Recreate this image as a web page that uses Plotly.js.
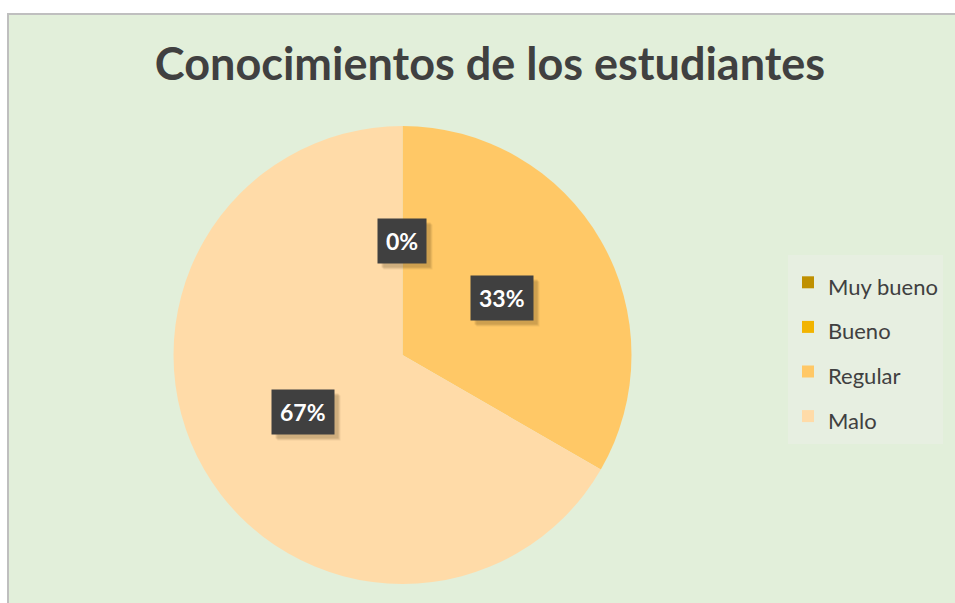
<!DOCTYPE html>
<html>
<head>
<meta charset="utf-8">
<script src="https://cdn.plot.ly/plotly-3.0.1.min.js"></script>
<style>
  html, body { margin: 0; padding: 0; background: #ffffff; overflow: hidden; width: 955px; height: 603px; }
  #chart { position: absolute; left: 7px; top: 13px; width: 950px; height: 592px;
           border-top: 2px solid #BFBFBF; border-left: 2px solid #BFBFBF; box-sizing: border-box; }
</style>
</head>
<body>
<div id="chart"></div>
<script>
// ---- data ----
const categories = ["Muy bueno", "Bueno", "Regular", "Malo"];
const values = [0, 0, 1, 2];
const sliceColors = ["#BF9000", "#F2B400", "#FFC866", "#FFDBA8"];
const chartTitle = "Conocimientos de los estudiantes";

// ---- layout geometry ----
const W = 948, H = 590;
const domX = [164.5 / W, 622.5 / W];
const domY = [1 - 569 / H, 1 - 111 / H];

const cx = (domX[0] + domX[1]) / 2 * W;
const cy = (1 - (domY[0] + domY[1]) / 2) * H;
const R = Math.min((domX[1] - domX[0]) * W, (domY[1] - domY[0]) * H) / 2;

const total = values.reduce((a, b) => a + b, 0);
const annotations = [];
let cum = 0;
const seen = {};
values.forEach((v, i) => {
  const frac = v / total;
  const mid = (cum + frac / 2) * 2 * Math.PI;
  cum += frac;
  const px = cx + 0.5 * R * Math.sin(mid);
  const py = cy - 0.5 * R * Math.cos(mid);
  const key = Math.round(px) + "_" + Math.round(py);
  if (seen[key]) return;
  seen[key] = true;
  const txt = Math.round(frac * 100) + "%";
  annotations.push({
    xref: "paper", yref: "paper", x: px / W, y: 1 - py / H,
    xanchor: "center", yanchor: "middle", showarrow: false,
    borderpad: 8, text: "<b>" + txt + "</b>",
    bgcolor: "#404040",
    font: { family: "Lato, 'Open Sans', sans-serif", size: 23, color: "#FFFFFF" }
  });
});

const trace = {
  type: "pie",
  labels: categories.map(c => '<span style="font-size:22px">' + c + '</span>'),
  values: values,
  sort: false,
  direction: "clockwise",
  rotation: 0,
  textinfo: "none",
  hoverinfo: "none",
  marker: { colors: sliceColors, line: { width: 0 } },
  domain: { x: domX, y: domY }
};

const layout = {
  width: W, height: H,
  margin: { l: 0, r: 0, t: 0, b: 0 },
  paper_bgcolor: "#E2EFDA",
  plot_bgcolor: "#E2EFDA",
  showlegend: true,
  title: {
    text: "<b>" + chartTitle + "</b>",
    font: { family: "Lato, 'Open Sans', sans-serif", size: 45, color: "#404040" },
    x: 481 / W, xref: "paper", xanchor: "center",
    y: 1 - 49 / H, yref: "container", yanchor: "middle"
  },
  legend: {
    x: 779 / W, xanchor: "left",
    y: 1 - 240 / H, yanchor: "top",
    bgcolor: "#E7EFE1",
    font: { family: "Lato, 'Open Sans', sans-serif", size: 32, color: "#404040" },
    itemwidth: 30,
    traceorder: "normal"
  },
  annotations: annotations
};

const gd = document.getElementById("chart");
Plotly.newPlot(gd, [trace], layout, { displayModeBar: false, staticPlot: true }).then(() => {
  // soft drop shadows behind the data-label boxes, sized from the drawn boxes
  const svgBox = gd.querySelector(".main-svg").getBoundingClientRect();
  const shapes = [];
  gd.querySelectorAll(".infolayer .annotation rect.bg").forEach(r => {
    const b = r.getBoundingClientRect();
    const x0 = b.left - svgBox.left, x1 = b.right - svgBox.left;
    const y0 = b.top - svgBox.top, y1 = b.bottom - svgBox.top;
    [[6, 0.08], [5, 0.10], [4, 0.12]].forEach(([d, a]) => {
      shapes.push({
        type: "rect", xref: "paper", yref: "paper", layer: "above",
        x0: (x0 + d) / W, x1: (x1 + d) / W,
        y0: 1 - (y1 + d) / H, y1: 1 - (y0 + d) / H,
        fillcolor: "rgba(80,60,20," + a + ")", line: { width: 0 }
      });
    });
  });
  return Plotly.relayout(gd, { shapes: shapes });
});
</script>
</body>
</html>
